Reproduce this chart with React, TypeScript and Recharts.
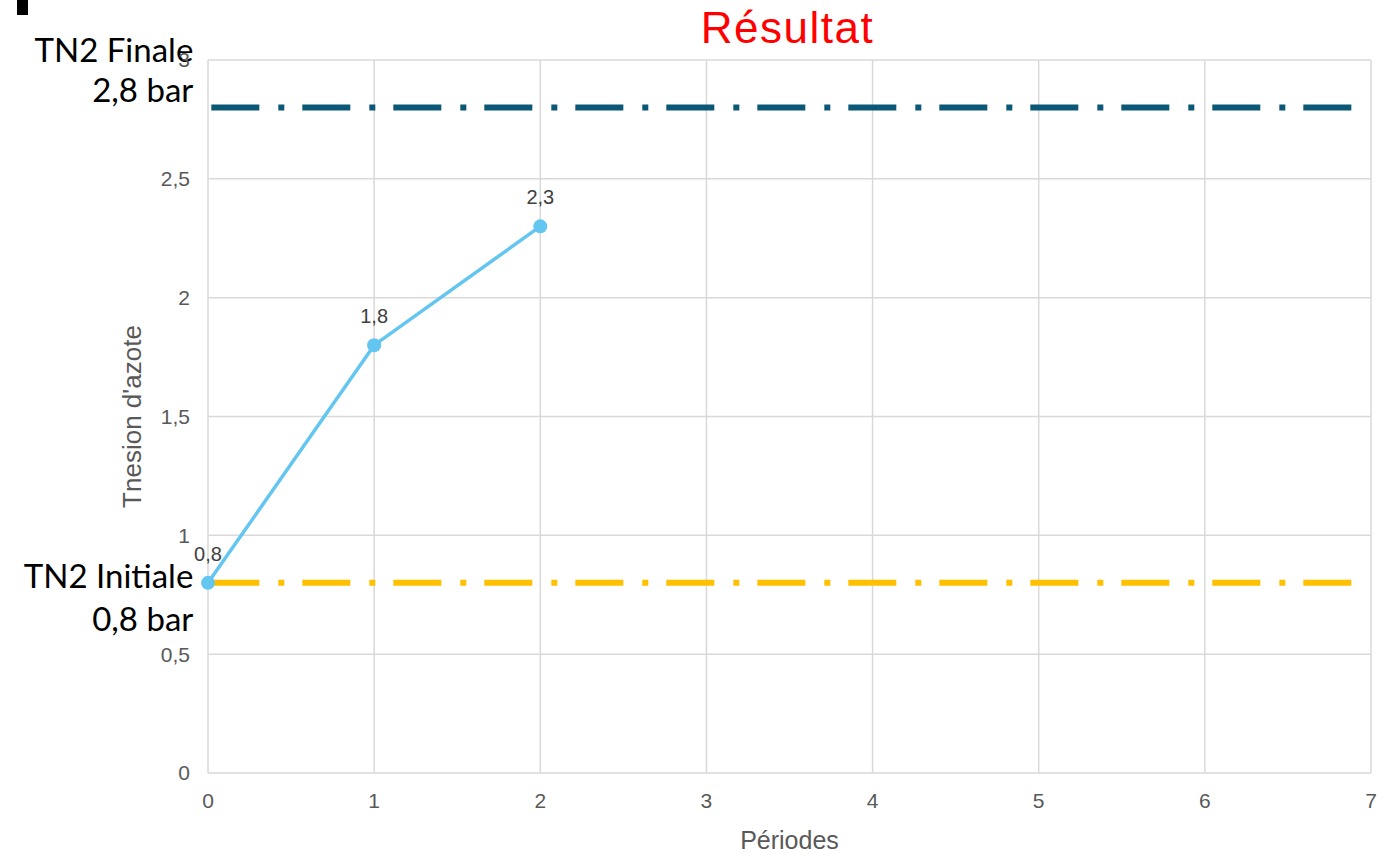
import React from 'react';
import {
  LineChart,
  Line,
  XAxis,
  YAxis,
  CartesianGrid,
  ReferenceLine,
  LabelList,
  Label,
} from 'recharts';

// Périodes et tension mesurée
const periodes = [0, 1, 2];
const tension = [0.8, 1.8, 2.3];

const xTicks = [0, 1, 2, 3, 4, 5, 6, 7];
const yTicks = [0, 0.5, 1, 1.5, 2, 2.5, 3];

// seuils TN2 : [début, fin] en périodes
const tn2Finale = 2.8;
const tn2Initiale = 0.8;
const seuilPeriodes = [0.02, 6.9];

const data = periodes.map((p, i) => ({ periode: p, tension: tension[i] }));

const fr = (v: number) => String(v).replace('.', ',');

const GRID = '#D9D9D9';
const TICK = '#595959';

const AnnotLabel = ({ viewBox, lines }: any) => {
  const x = viewBox.x - 18;
  const y = viewBox.y;
  return (
    <g>
      {lines.map((l: { text: string; dy: number }, i: number) => (
        <text
          key={i}
          x={x}
          y={y + l.dy}
          textAnchor="end"
          fill="#000"
          fontSize={33}
          fontFamily="Lato, 'Open Sans', sans-serif"
        >
          {l.text}
        </text>
      ))}
    </g>
  );
};

const App: React.FC = () => {
  return (
    <div
      style={{
        position: 'absolute',
        left: 0,
        top: 0,
        width: 1389,
        height: 853,
        background: '#fff',
        fontFamily: "'Liberation Sans', Arial, sans-serif",
      }}
    >
      <div style={{ position: 'absolute', left: 17, top: 0, width: 11, height: 15, background: '#000' }} />
      <div
        style={{
          position: 'absolute',
          left: 0,
          top: 3,
          width: 1575,
          textAlign: 'center',
          color: '#FF0000',
          fontSize: 44,
          letterSpacing: 1.5,
          lineHeight: '50px',
        }}
      >
        Résultat
      </div>
      <LineChart
        width={1389}
        height={853}
        data={data}
        margin={{ top: 60, right: 18, bottom: 0, left: 0 }}
      >
        <CartesianGrid stroke={GRID} strokeWidth={1.5} />
        <XAxis
          dataKey="periode"
          type="number"
          domain={[0, 7]}
          ticks={xTicks}
          height={80}
          axisLine={false}
          tickLine={false}
          tickSize={0}
          tickMargin={20}
          tick={{ fill: TICK, fontSize: 21 }}
        >
          <Label
            value="Périodes"
            position="insideBottom"
            offset={4}
            style={{ fill: TICK, fontSize: 25 }}
          />
        </XAxis>
        <YAxis
          type="number"
          domain={[0, 3]}
          ticks={yTicks}
          width={208}
          axisLine={false}
          tickLine={false}
          tickSize={0}
          tickMargin={18}
          tickFormatter={fr}
          tick={{ fill: TICK, fontSize: 21 }}
        >
          <Label
            content={({ viewBox }: any) => {
              const cx = viewBox.x + 132;
              const cy = viewBox.y + viewBox.height / 2;
              return (
                <text
                  x={cx}
                  y={cy}
                  transform={`rotate(-90 ${cx} ${cy})`}
                  textAnchor="middle"
                  dominantBaseline="central"
                  fill={TICK}
                  fontSize={26}
                >
                  Tnesion d'azote
                </text>
              );
            }}
          />
        </YAxis>
        <ReferenceLine
          segment={[
            { x: seuilPeriodes[0], y: tn2Finale },
            { x: seuilPeriodes[1], y: tn2Finale },
          ]}
          stroke="#0B5876"
          strokeWidth={6}
          strokeDasharray="48 19 6 18"
          label={
            <AnnotLabel
              lines={[
                { text: 'TN2 Finale', dy: -46 },
                { text: `${fr(tn2Finale)} bar`, dy: -6 },
              ]}
            />
          }
        />
        <ReferenceLine
          segment={[
            { x: seuilPeriodes[0], y: tn2Initiale },
            { x: seuilPeriodes[1], y: tn2Initiale },
          ]}
          stroke="#FFC000"
          strokeWidth={6}
          strokeDasharray="48 19 6 18"
          label={
            <AnnotLabel
              lines={[
                { text: 'TN2 Initiale', dy: 5 },
                { text: `${fr(tn2Initiale)} bar`, dy: 48 },
              ]}
            />
          }
        />
        <Line
          type="linear"
          dataKey="tension"
          stroke="#63C6F0"
          strokeWidth={3.5}
          dot={{ r: 7, fill: '#63C6F0', stroke: '#63C6F0', strokeWidth: 0 }}
          isAnimationActive={false}
        >
          <LabelList
            dataKey="tension"
            position="top"
            offset={22}
            formatter={(v: any) => fr(v)}
            style={{ fill: '#404040', fontSize: 20 }}
          />
        </Line>
      </LineChart>
    </div>
  );
};

export default App;
